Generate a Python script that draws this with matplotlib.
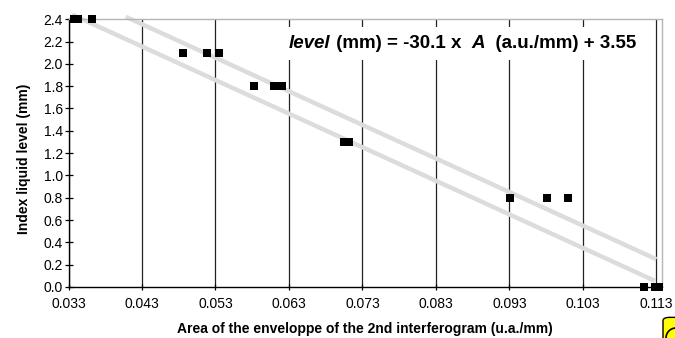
import numpy as np
import matplotlib.pyplot as plt
from matplotlib.patches import FancyBboxPatch, Ellipse

plt.rcParams['font.family'] = ['Liberation Sans', 'DejaVu Sans']

# measured points: envelope area vs. liquid level
area = [0.0337, 0.0343, 0.0362,
        0.0486, 0.0518, 0.0535,
        0.0583, 0.0609, 0.0621,
        0.0705, 0.0712,
        0.0931, 0.0981, 0.1010,
        0.1113, 0.1128, 0.1133]
level = [2.4, 2.4, 2.4,
         2.1, 2.1, 2.1,
         1.8, 1.8, 1.8,
         1.3, 1.3,
         0.8, 0.8, 0.8,
         0.0, 0.0, 0.0]

# fit level = slope*A + offset, drawn as two bands +/- band
slope = -30.1
offset = 3.55
band = 0.1
upper_x = [0.0408, 0.1130]
lower_x = [0.0335, 0.1128]

xticks = [0.033, 0.043, 0.053, 0.063, 0.073, 0.083, 0.093, 0.103, 0.113]
yticks = [0.0, 0.2, 0.4, 0.6, 0.8, 1.0, 1.2, 1.4, 1.6, 1.8, 2.0, 2.2, 2.4]

fig = plt.figure(figsize=(6.75, 3.38), dpi=100)
ax = fig.add_axes([0.1015, 0.151, 0.8785, 0.792])

ux = np.array(upper_x)
lx = np.array(lower_x)
ax.plot(ux, slope * ux + offset + band, color='#dcdcdc', lw=3.2,
        solid_capstyle='butt', clip_on=False, zorder=2)
ax.plot(lx, slope * lx + offset - band, color='#dcdcdc', lw=3.2,
        solid_capstyle='butt', clip_on=False, zorder=2)

ax.scatter(area, level, marker='s', s=27, color='black', linewidths=0,
           clip_on=False, zorder=4)

ax.set_xlim(0.033, 0.1137)
ax.set_ylim(0.0, 2.4)
ax.set_xticks(xticks)
ax.set_yticks(yticks)
ax.set_xticklabels(['%.3f' % v for v in xticks])
ax.set_yticklabels(['%.1f' % v for v in yticks])
ax.tick_params(axis='both', labelsize=10, color='black', width=0.9)
ax.tick_params(axis='y', direction='inout', length=6, pad=1)
ax.tick_params(axis='x', direction='inout', length=5, pad=5)

ax.grid(axis='x', color='#222222', lw=0.9, zorder=1)
ax.grid(axis='y', visible=False)
ax.set_axisbelow(True)

for side in ['left', 'bottom']:
    ax.spines[side].set_color('black')
    ax.spines[side].set_linewidth(1.0)
for side in ['top', 'right']:
    ax.spines[side].set_color('#b5b5b5')
    ax.spines[side].set_linewidth(1.0)

ax.set_xlabel('Area of the enveloppe of the 2nd interferogram (u.a./mm)',
              fontsize=10, fontweight='bold', labelpad=8)
ax.set_ylabel('Index liquid level (mm)', fontsize=10, fontweight='bold')
ax.yaxis.set_label_coords(-0.064, 0.478)

# equation, built from pieces so the variables can be italic;
# first pass lays down white boxes, second pass draws the text on top
pieces = [('level', 'italic'), (' (mm) = -30.1 x  ', 'normal'),
          ('A', 'italic'), ('  (a.u./mm) + 3.55', 'normal')]


def draw_equation(color, bbox, z):
    prev = ax.text(0.372, 0.892, pieces[0][0], transform=ax.transAxes,
                   fontsize=13.5, fontweight='bold', style=pieces[0][1],
                   va='baseline', ha='left', color=color, bbox=bbox,
                   zorder=z)
    for txt, st in pieces[1:]:
        prev = ax.annotate(txt, xy=(1, 0), xycoords=prev, xytext=(0, 0),
                           textcoords='offset points', fontsize=13.5,
                           fontweight='bold', style=st, va='bottom',
                           ha='left', color=color, bbox=bbox, zorder=z)


draw_equation('white', dict(facecolor='white', edgecolor='none', pad=6), 3)
draw_equation('black', None, 3.5)

# stray yellow marker in the lower right corner
fig.patches.append(FancyBboxPatch((663 / 675, -0.05), 0.05, 0.1111,
                                  boxstyle='round,pad=0,rounding_size=0.01',
                                  transform=fig.transFigure,
                                  facecolor='#ffff00', edgecolor='black',
                                  lw=1.0, clip_on=False))
fig.patches.append(Ellipse((676 / 675, 0.0), 20 / 675, 20 / 338,
                           transform=fig.transFigure, facecolor='none',
                           edgecolor='black', lw=1.2, clip_on=False))

fig.savefig('out.png', dpi=100)
